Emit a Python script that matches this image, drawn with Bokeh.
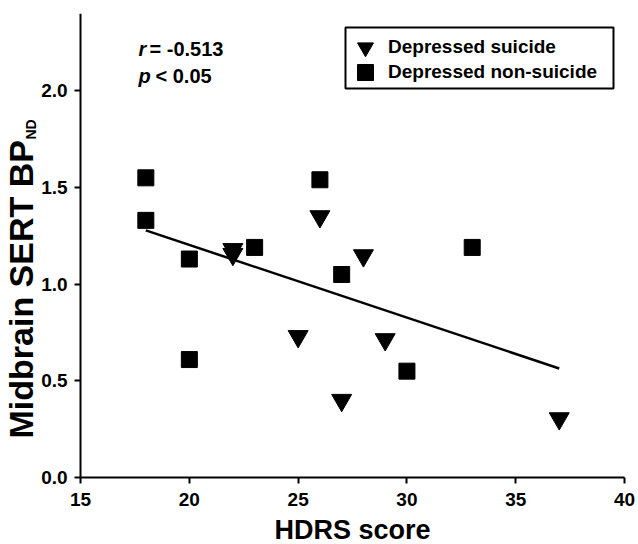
import math
from bokeh.plotting import figure
from bokeh.models import (Label, Legend, LegendItem, FixedTicker, BoxAnnotation,
                          NumeralTickFormatter, Range1d)
from bokeh.embed import file_html
from bokeh.resources import INLINE

# ---- data ----
hdrs_suicide = [22, 22, 25, 26, 27, 28, 29, 37]
sert_suicide = [1.18, 1.155, 0.73, 1.35, 0.40, 1.148, 0.714, 0.305]
hdrs_nonsuicide = [18, 18, 20, 20, 23, 26, 27, 30, 33]
sert_nonsuicide = [1.55, 1.33, 1.13, 0.61, 1.19, 1.54, 1.05, 0.55, 1.19]
fit_x = [18, 37]
fit_y = [1.278, 0.564]
x_ticks = [15, 20, 25, 30, 35, 40]
y_ticks = [0.0, 0.5, 1.0, 1.5, 2.0]
stats_r = "-0.513"
stats_p = "0.05"

FONT = "Liberation Sans"

# the frame covers the whole drawing area; both axes are fixed at data positions
# (x = 15, y = 0) so that the rotated y label and the tick labels are never clipped
p = figure(frame_width=638, frame_height=531, output_backend="svg", toolbar_location=None,
           x_range=Range1d(11.32, 40.643), y_range=Range1d(-0.3466, 2.4),
           min_border_left=0, min_border_right=0, min_border_top=13,
           min_border_bottom=0)
p.outline_line_color = None
p.grid.visible = False
p.background_fill_color = "white"

for ax in (p.xaxis[0], p.yaxis[0]):
    ax.axis_line_color = "black"
    ax.axis_line_width = 2
    ax.major_tick_line_color = "black"
    ax.major_tick_line_width = 2
    ax.major_tick_out = 6
    ax.major_tick_in = 0
    ax.minor_tick_line_color = None
    ax.major_label_text_font = FONT
    ax.major_label_text_font_style = "bold"
    ax.major_label_text_font_size = "19px"
    ax.major_label_text_color = "black"

p.yaxis.fixed_location = 15
p.xaxis.fixed_location = 0
p.xaxis.bounds = (15, 40)
p.yaxis.bounds = (0, 2.4)
p.xaxis.major_label_standoff = 10
p.yaxis.major_label_standoff = 7
p.xaxis.ticker = FixedTicker(ticks=x_ticks)
p.yaxis.ticker = FixedTicker(ticks=y_ticks)
p.yaxis.formatter = NumeralTickFormatter(format="0.0")

p.xaxis.axis_label = "HDRS score"
p.xaxis.axis_label_text_font = FONT
p.xaxis.axis_label_text_font_style = "bold"
p.xaxis.axis_label_text_font_size = "27px"
p.xaxis.axis_label_text_color = "black"
p.xaxis.axis_label_standoff = 5

# regression line
p.line(fit_x, fit_y, line_color="black", line_width=2.5)

tri = p.scatter(hdrs_suicide, sert_suicide, marker="inverted_triangle", size=20,
                fill_color="black", line_color="black")
sq = p.scatter(hdrs_nonsuicide, sert_nonsuicide, marker="square", size=16,
               fill_color="black", line_color="black")

# legend: bordered box with two single-item legends inside it
p.add_layout(BoxAnnotation(left=345, right=613, bottom=456, top=517,
                           left_units="screen", right_units="screen",
                           bottom_units="screen", top_units="screen",
                           fill_color="white", fill_alpha=1,
                           line_color="black", line_width=2, line_alpha=1))
leg_style = dict(glyph_width=40, glyph_height=40, padding=0, margin=0,
                 label_standoff=3, label_text_font=FONT,
                 label_text_font_style="bold", label_text_font_size="19px",
                 label_text_color="black", border_line_color=None,
                 background_fill_alpha=0)
p.add_layout(Legend(items=[LegendItem(label="Depressed suicide", renderers=[tri])],
                    location=(345, 477), **leg_style), "center")
p.add_layout(Legend(items=[LegendItem(label="Depressed non-suicide", renderers=[sq])],
                    location=(345, 452), **leg_style), "center")

# y axis label with subscript
common = dict(x_units="screen", y_units="screen", text_font=FONT,
              text_font_style="bold", text_color="black",
              angle=math.pi / 2, text_align="left", text_baseline="alphabetic")
p.add_layout(Label(x=20, y=106, text="Midbrain SERT BP", text_font_size="34px", **common))
p.add_layout(Label(x=30, y=405, text="ND", text_font_size="14px", **common))

# statistics text
st = dict(x_units="screen", y_units="screen", text_font=FONT,
          text_font_size="20px", text_color="black", text_baseline="alphabetic")
p.add_layout(Label(x=138, y=496, text="r", text_font_style="bold italic", **st))
p.add_layout(Label(x=149, y=496, text="= " + stats_r, text_font_style="bold", **st))
p.add_layout(Label(x=138, y=469, text="p", text_font_style="bold italic", **st))
p.add_layout(Label(x=155, y=469, text="< " + stats_p, text_font_style="bold", **st))

open("out.html", "w").write(file_html(p, INLINE))
